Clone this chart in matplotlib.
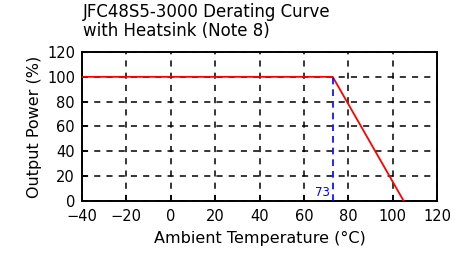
import matplotlib
matplotlib.use('Agg')
from matplotlib import pyplot as plt

# derating curve points
temp = [-40, 73, 105]
power = [100, 100, 0]
knee_temp = 73
x_ticks = [-40, -20, 0, 20, 40, 60, 80, 100, 120]
y_ticks = [0, 20, 40, 60, 80, 100, 120]

fig = plt.figure(figsize=(4.55, 2.61), dpi=100)
ax = fig.add_axes([82 / 455, 60 / 261, 355 / 455, 149 / 261])

ax.plot(temp, power, color='red', lw=1.3, zorder=3)
ax.plot([knee_temp, knee_temp], [0, 100], color='blue', ls=(0, (4, 3)), lw=1.2, zorder=3)
ax.text(knee_temp - 1.5, 2, str(knee_temp), color='blue', fontsize=8.5,
        ha='right', va='bottom')

ax.set_xlim(-40, 120)
ax.set_ylim(0, 120)
ax.set_xticks(x_ticks)
ax.set_yticks(y_ticks)
ax.tick_params(direction='in', labelsize=10.5, length=4, width=1.2)
ax.tick_params(axis='y', pad=5)
ax.tick_params(axis='x', pad=6)
ax.grid(True, color='black', ls=(0, (4, 4)), lw=1.1)
for s in ax.spines.values():
    s.set_linewidth(1.4)

ax.set_xlabel('Ambient Temperature (°C)', fontsize=11.5, labelpad=5)
ax.set_ylabel('Output Power (%)', fontsize=11.5, labelpad=4)
fig.text(83 / 455, 1 - 3 / 261, 'JFC48S5-3000 Derating Curve\nwith Heatsink (Note 8)',
         fontsize=12, ha='left', va='top', linespacing=1.05)

fig.savefig('out.png', dpi=100)
